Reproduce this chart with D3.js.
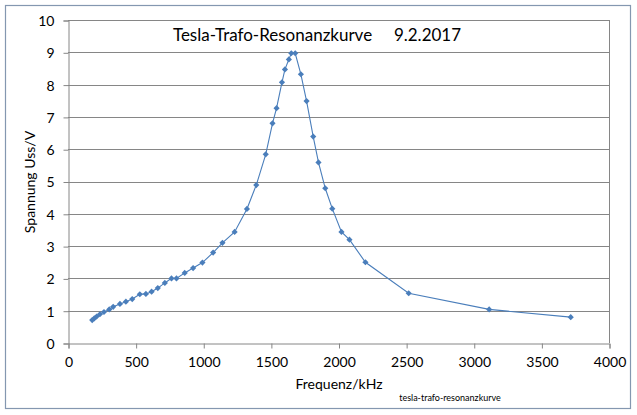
<!DOCTYPE html>
<html><head><meta charset="utf-8">
<script src="https://cdn.jsdelivr.net/npm/d3@7"></script>
<style>html,body{margin:0;padding:0;background:#fff;} svg{display:block;font-family:Lato,"Open Sans",sans-serif;}</style>
</head><body>
<svg id="c" width="637" height="415"></svg>
<script>
const freq = [179,194,212,236,266,305,334,384,428,475,531,576,618,664,716,765,802,863,925,994,1073,1142,1232,1323,1392,1462,1512,1542,1582,1604,1633,1651,1680,1722,1764,1813,1852,1902,1954,2022,2081,2199,2519,3114,3717];
const volt = [0.71,0.76,0.82,0.89,0.96,1.04,1.12,1.21,1.28,1.36,1.51,1.52,1.59,1.70,1.86,2.00,2.00,2.17,2.32,2.49,2.80,3.10,3.44,4.15,4.89,5.84,6.80,7.27,8.07,8.47,8.78,8.97,8.97,8.32,7.49,6.39,5.59,4.79,4.16,3.44,3.20,2.50,1.54,1.04,0.80];
const xTicks = [0,500,1000,1500,2000,2500,3000,3500,4000];
const yTicks = [0,1,2,3,4,5,6,7,8,9,10];
const title = "Tesla-Trafo-Resonanzkurve\u00A0\u00A0\u00A0\u00A0 9.2.2017";
const xTitle = "Frequenz/kHz";
const yTitle = "Spannung Uss/V";
const footnote = "tesla-trafo-resonanzkurve";

const svg = d3.select("#c");
const L=68, R=609, T=20, B=343;
const x = d3.scaleLinear().domain([0,4000]).range([L,R]);
const y = d3.scaleLinear().domain([0,10]).range([B,T]);
const grid="#868686", col="#4A7EBB";

svg.append("rect").attr("x",5.5).attr("y",5.5).attr("width",625).attr("height",403)
  .attr("fill","#fff").attr("stroke","#8497B0").attr("stroke-width",1.2);

svg.append("g").selectAll("line").data(yTicks.filter(d=>d>0)).join("line")
  .attr("x1",L).attr("x2",R).attr("y1",d=>Math.round(y(d))+0.5).attr("y2",d=>Math.round(y(d))+0.5)
  .attr("stroke",grid).attr("stroke-width",1);
svg.append("line").attr("x1",R+0.5).attr("x2",R+0.5).attr("y1",T).attr("y2",B).attr("stroke",grid);

const yAxis = d3.axisLeft(y).tickValues(yTicks).tickSize(5).tickPadding(9).tickFormat(d3.format("d"));
const gy = svg.append("g").attr("transform",`translate(${L+0.5},0.5)`).call(yAxis);
const xAxis = d3.axisBottom(x).tickValues(xTicks).tickSize(5).tickPadding(9).tickFormat(d3.format("d"));
const gx = svg.append("g").attr("transform",`translate(0.5,${B+0.5})`).call(xAxis);
[gx,gy].forEach(g=>{
  g.select(".domain").attr("stroke",grid);
  g.selectAll(".tick line").attr("stroke",grid);
  g.selectAll(".tick text").attr("fill","#000").style("font-size","14px").style("font-family","Lato");
});
gy.selectAll(".tick text").attr("dy","0.35em");

const pts = freq.map((f,i)=>[f,volt[i]]);
svg.append("path").datum(pts).attr("fill","none").attr("stroke",col).attr("stroke-width",1.1)
  .attr("d",d3.line().x(d=>x(d[0])).y(d=>y(d[1])));
svg.append("g").selectAll("path").data(pts).join("path")
  .attr("transform",d=>`translate(${x(d[0])},${y(d[1])}) rotate(45)`)
  .attr("d",d3.symbol(d3.symbolSquare,19)).attr("fill",col);

svg.append("text").attr("x",317).attr("y",41).attr("text-anchor","middle")
  .style("font-size","17px").text(title);
svg.append("text").attr("x",339).attr("y",389).attr("text-anchor","middle")
  .style("font-size","14px").text(xTitle);
svg.append("text").attr("transform","translate(35,182) rotate(-90)").attr("text-anchor","middle")
  .style("font-size","14px").text(yTitle);
svg.append("text").attr("x",450).attr("y",401).attr("text-anchor","middle")
  .style("font-size","9px").text(footnote);
</script>
</body></html>
